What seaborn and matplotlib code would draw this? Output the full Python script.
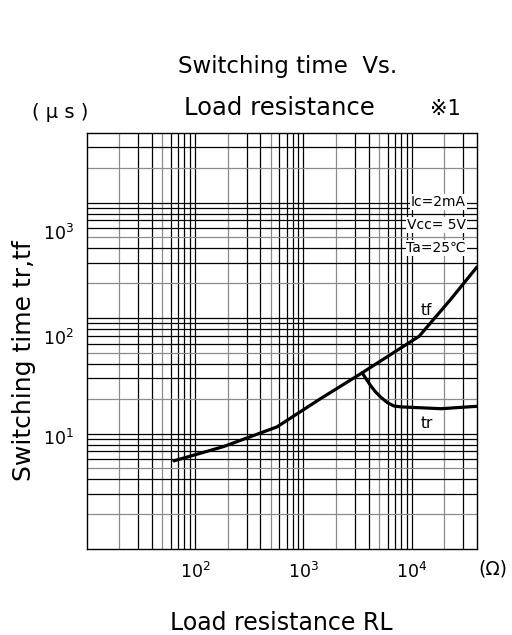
import numpy as np
import pandas as pd
import matplotlib
matplotlib.use("Agg")
import matplotlib.pyplot as plt
from matplotlib.ticker import LogFormatterSciNotation, NullLocator
from matplotlib.transforms import ScaledTranslation
import seaborn as sns

# values (RL in ohm, time in microseconds)
tf_rl = [64, 183, 570, 1436, 3375, 11700, 23000, 40000]
tf_time = [5.8, 7.7, 11.4, 20, 32.9, 69.5, 146, 277]

tr_rl = [3490, 4170, 4640, 5160, 5960, 6860, 8000, 18600, 40000]
tr_time = [33.5, 26, 22.9, 20.7, 18.5, 17.3, 17.0, 16.4, 17.2]

x_ticks = [1e2, 1e3, 1e4]
y_ticks = [1e1, 1e2, 1e3]
conditions = ["Ic=2mA", "Vcc= 5V", "Ta=25℃"]

sns.set_style("white", {"text.color": "black", "axes.labelcolor": "black",
                        "xtick.color": "black", "ytick.color": "black",
                        "axes.edgecolor": "black"})
plt.rcParams['font.family'] = ['DejaVu Sans', 'Noto Sans CJK JP']

fig = plt.figure(figsize=(5.12, 6.35), dpi=100)
ax = fig.add_axes([0.169, 0.1354, 0.7627, 0.6552])
ax.set_xscale("log")
ax.set_yscale("log")
ax.set_xlim(10, 4e4)
ax.set_ylim(1.0, 4000)

# log grid like the datasheet: black lines, the 2 and 5 lines grey
for dec in [1e1, 1e2, 1e3, 1e4]:
    for m in range(1, 10):
        v = dec * m
        if 10 < v < 4e4:
            c = "#8c8c8c" if m in (2, 5) else "black"
            ax.axvline(v, color=c, lw=0.9, zorder=1)
for dec in [1e0, 1e1, 1e2, 1e3]:
    for m in range(1, 10):
        v = dec * m
        if 1.0 < v < 4000:
            c = "#8c8c8c" if m in (2, 5) else "black"
            ax.axhline(v, color=c, lw=0.9, zorder=1)

tf = pd.DataFrame({"rl": tf_rl, "t": tf_time})
tr = pd.DataFrame({"rl": tr_rl, "t": tr_time})
sns.lineplot(data=tf, x="rl", y="t", ax=ax, color="black", lw=2.3,
             sort=False, estimator=None, zorder=3)
sns.lineplot(data=tr, x="rl", y="t", ax=ax, color="black", lw=2.3,
             sort=False, estimator=None, zorder=3)

ax.text(13500, 117, "tf", fontsize=11, ha="center", va="center",
        bbox=dict(facecolor="white", edgecolor="none", pad=0.5), zorder=4)
ax.text(13800, 12.2, "tr", fontsize=11, ha="center", va="center",
        bbox=dict(facecolor="white", edgecolor="none", pad=0.5), zorder=4)

for i, s in enumerate(conditions):
    ax.text(0.972, 0.834 - i * 0.055, s, transform=ax.transAxes, fontsize=10,
            ha="right", va="center",
            bbox=dict(facecolor="white", edgecolor="none", pad=0.6), zorder=4)

ax.set_xticks(x_ticks)
ax.set_yticks(y_ticks)
ax.xaxis.set_minor_locator(NullLocator())
ax.yaxis.set_minor_locator(NullLocator())
ax.xaxis.set_major_formatter(LogFormatterSciNotation())
ax.yaxis.set_major_formatter(LogFormatterSciNotation())
ax.tick_params(length=0, labelsize=12.5, pad=9, labelcolor="black")
# the y labels in the source sit a little below their grid lines
for lab, dy in zip(ax.get_yticklabels(), [0.03, 0.19, 0.29]):
    lab.set_transform(lab.get_transform() + ScaledTranslation(0, -dy, fig.dpi_scale_trans))
for sp in ax.spines.values():
    sp.set_color("black")
    sp.set_linewidth(1.0)
ax.set_xlabel("")
ax.set_ylabel("")

fig.text(0.5625, 0.885, "Switching time  Vs.", fontsize=16.5, ha="center", va="baseline")
fig.text(0.545, 0.819, "Load resistance", fontsize=17.5, ha="center", va="baseline")
fig.text(0.869, 0.819, "※1", fontsize=15, ha="center", va="baseline")
fig.text(0.117, 0.8236, "( μ s )", fontsize=14, ha="center", va="center")
fig.text(0.047, 0.4315, "Switching time tr,tf", fontsize=18, rotation=90,
         ha="center", va="center")
fig.text(0.549, 0.008, "Load resistance RL", fontsize=17, ha="center", va="baseline")
fig.text(0.963, 0.104, "(Ω)", fontsize=13.5, ha="center", va="center")

fig.savefig("out.png", dpi=100)
